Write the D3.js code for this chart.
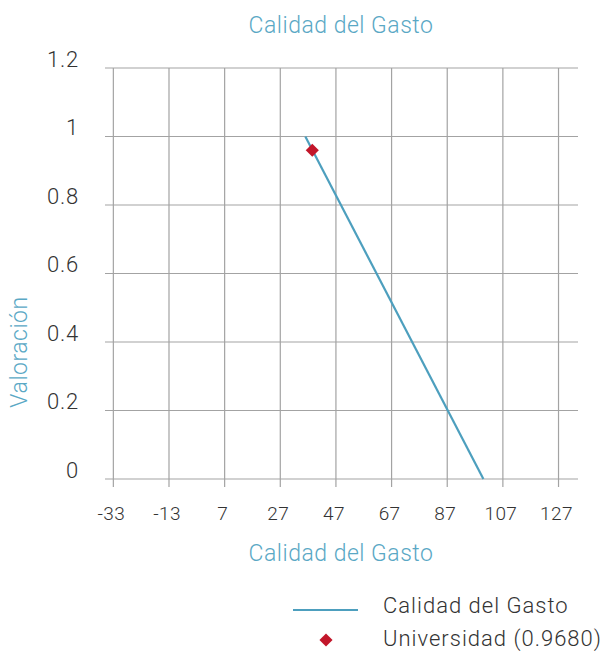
<!DOCTYPE html>
<html>
<head>
<meta charset="utf-8">
<script src="https://cdn.jsdelivr.net/npm/d3@7"></script>
<style>
body{margin:0;background:#fff;}
svg{display:block;font-family:Roboto,"DejaVu Sans",sans-serif;font-weight:300;}
</style>
</head>
<body>
<svg id="chart" width="604" height="651"></svg>
<script>
const xTicks = [-33, -13, 7, 27, 47, 67, 87, 107, 127];
const yTicks = [0, 0.2, 0.4, 0.6, 0.8, 1, 1.2];
const yTickLabels = ["0", "0.2", "0.4", "0.6", "0.8", "1", "1.2"];
const lineX = [36, 100];
const lineY = [1, 0];
const pointX = [38.5];
const pointY = [0.96];
const seriesNames = ["Calidad del Gasto", "Universidad (0.9680)"];
const titleText = "Calidad del Gasto";
const xTitle = "Calidad del Gasto";
const yTitle = "Valoración";

const svg = d3.select("#chart");
const blue = "#4d9fbe";
const titleBlue = "#5aa8c5";
const red = "#c2162a";
const grid = "#a3a3a3";
const textCol = "#333333";

const x = d3.scaleLinear().domain([-36, 134]).range([105, 578]);
const y = d3.scaleLinear().domain([0, 1.2]).range([479, 68]);

svg.append("g").selectAll("line").data(yTicks).join("line")
  .attr("x1", x.range()[0]).attr("x2", x.range()[1])
  .attr("y1", d => y(d)).attr("y2", d => y(d))
  .attr("stroke", grid).attr("stroke-width", 1.2);

svg.append("g").selectAll("line").data(xTicks).join("line")
  .attr("x1", d => x(d)).attr("x2", d => x(d))
  .attr("y1", y(1.2)).attr("y2", y(0) + 8)
  .attr("stroke", grid).attr("stroke-width", 1.2);

svg.append("g").selectAll("text").data(yTicks).join("text")
  .attr("x", 79).attr("y", d => y(d) - 7)
  .attr("text-anchor", "end").attr("dominant-baseline", "middle")
  .attr("font-size", 22).attr("letter-spacing", 0.8).attr("fill", textCol)
  .text((d, i) => yTickLabels[i]);

svg.append("g").selectAll("text").data(xTicks).join("text")
  .attr("x", d => x(d) - 2).attr("y", 520)
  .attr("text-anchor", "middle")
  .attr("font-size", 19).attr("letter-spacing", 0.4).attr("fill", textCol)
  .text(d => d);

const lineData = lineX.map((v, i) => [v, lineY[i]]);
svg.append("path").datum(lineData)
  .attr("d", d3.line().x(d => x(d[0])).y(d => y(d[1])))
  .attr("fill", "none").attr("stroke", blue).attr("stroke-width", 2.2);

const diamond = d3.symbol().type(d3.symbolDiamond2).size(110);
svg.append("g").selectAll("path").data(pointX.map((v, i) => [v, pointY[i]])).join("path")
  .attr("d", diamond)
  .attr("transform", d => `translate(${x(d[0])},${y(d[1])})`)
  .attr("fill", red);

svg.append("text").attr("x", 341).attr("y", 33).attr("text-anchor", "middle")
  .attr("font-size", 23).attr("letter-spacing", 0.5).attr("fill", titleBlue).text(titleText);
svg.append("text").attr("x", 341).attr("y", 561).attr("text-anchor", "middle")
  .attr("font-size", 23).attr("letter-spacing", 0.5).attr("fill", titleBlue).text(xTitle);
svg.append("text").attr("transform", "translate(27,352) rotate(-90)")
  .attr("text-anchor", "middle")
  .attr("font-size", 23).attr("letter-spacing", 0.5).attr("fill", titleBlue).text(yTitle);

const lg = svg.append("g");
lg.append("line").attr("x1", 293).attr("x2", 358).attr("y1", 610).attr("y2", 610)
  .attr("stroke", blue).attr("stroke-width", 2.2);
lg.append("path").attr("d", diamond).attr("transform", "translate(326,640)").attr("fill", red);
lg.selectAll("text").data(seriesNames).join("text")
  .attr("x", 383).attr("y", (d, i) => 607 + i * 33)
  .attr("dominant-baseline", "middle")
  .attr("font-size", 22).attr("letter-spacing", 1).attr("fill", textCol).text(d => d);
</script>
</body>
</html>
